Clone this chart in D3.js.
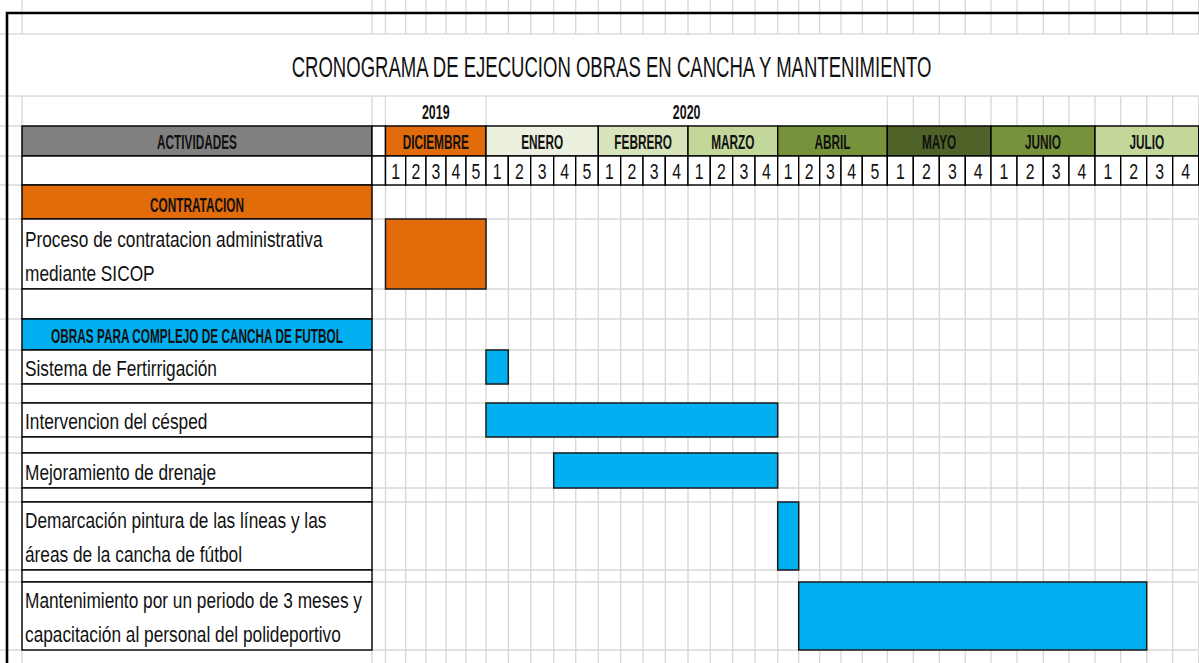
<!DOCTYPE html>
<html><head><meta charset="utf-8">
<script src="https://cdn.jsdelivr.net/npm/d3@7"></script>
<style>body{margin:0;background:#fff}svg{display:block}</style>
</head><body>
<svg id="c" width="1199" height="663"></svg>
<script>
// ---------------- DATA ----------------
const title = "CRONOGRAMA DE EJECUCION OBRAS EN CANCHA Y MANTENIMIENTO";
const headerLabel = "ACTIVIDADES";
const years = ["2019", "2020"];
const yearMonthSpan = [1, 4];             // months covered by each year cell
const months = ["DICIEMBRE", "ENERO", "FEBRERO", "MARZO", "ABRIL", "MAYO", "JUNIO", "JULIO"];
const weeksPerMonth = [5, 5, 4, 4, 5, 4, 4, 4];
const groups = ["CONTRATACION", "OBRAS PARA COMPLEJO DE CANCHA DE FUTBOL"];
const activities = [
  ["Proceso de contratacion administrativa", "mediante SICOP"],
  ["Sistema de Fertirrigación"],
  ["Intervencion del césped"],
  ["Mejoramiento de drenaje"],
  ["Demarcación pintura de las líneas y las", "áreas de la cancha de fútbol"],
  ["Mantenimiento por un periodo de 3 meses y", "capacitación al personal del polideportivo"]
];
const activityGroup = [0, 1, 1, 1, 1, 1];
const startWeek = [0, 5, 5, 8, 18, 19];   // week index (0 = Diciembre semana 1)
const endWeek   = [5, 6, 18, 18, 19, 33]; // exclusive

// ---------------- LAYOUT / STYLE ----------------
const W = 1199, H = 663;
const labelL = 22, labelR = 372, gridL = 385.5;
const weekWidths = [20.2,20.3,20,20,20, 22.3,22.4,23,22,22.6, 22.4,22.3,22.3,22.7, 22.3,22.4,22.3,22.7,
                    21,21,21.3,21.3,25, 26,26,26,25.7, 26,26.3,25.7,26, 25.7,26,26,26];
const headerY = {top: 13, title: 34, year: 96, month: 126, week: 156, body: 185};
const groupH = [34, 31];
const actH = [70, 34, 34, 35, 68, 68];
const gapH = [30, 19, 16, 14, 12];
const monthFill = ["#E26B0A", "#EBF1DE", "#D8E4BC", "#C4D79B", "#76933C", "#4F6228", "#76933C", "#C4D79B"];
const groupFill = ["#E26B0A", "#00B0F0"];
const gridColor = "#d9d9d9";
const FONT = "'Liberation Sans', Arial, sans-serif";

const svg = d3.select("#c");

// polylinear week scale
const bounds = [gridL];
weekWidths.forEach(w => bounds.push(bounds[bounds.length - 1] + w));
const x = d3.scaleLinear().domain(d3.range(bounds.length)).range(bounds);
const monthStart = d3.cumsum([0, ...weeksPerMonth]);

// body rows
const rows = [];
let yy = headerY.body;
let gapCount = 0;
activities.forEach((a, i) => {
  const g = activityGroup[i];
  if (i === 0 || g !== activityGroup[i - 1]) { rows.push({type: "group", g, y: yy, h: groupH[g]}); yy += groupH[g]; }
  rows.push({type: "act", i, y: yy, h: actH[i]}); yy += actH[i];
  if (i < activities.length - 1) { const h = gapH[gapCount++]; rows.push({type: "gap", y: yy, h}); yy += h; }
});

function condense(sel, f) {
  sel.each(function () {
    const w = this.getComputedTextLength();
    this.setAttribute("textLength", w * f);
    this.setAttribute("lengthAdjust", "spacingAndGlyphs");
  });
}

// ---------------- light spreadsheet grid ----------------
const hLines = [headerY.title, headerY.year, headerY.month, headerY.week, headerY.body, ...rows.map(r => r.y + r.h)];
const vLines = [labelL, labelR, ...bounds];
const grid = svg.append("g");
grid.selectAll("line.h").data(hLines).join("line")
  .attr("x1", 0).attr("x2", W).attr("y1", d => d).attr("y2", d => d)
  .attr("stroke", gridColor).attr("stroke-width", 1.4);
grid.selectAll("line.v").data(vLines).join("line")
  .attr("x1", d => d).attr("x2", d => d).attr("y1", 0).attr("y2", H)
  .attr("stroke", gridColor).attr("stroke-width", 1.4);

// merged title cell
svg.append("rect").attr("x", 9).attr("y", headerY.title + 0.8).attr("width", W - 9)
  .attr("height", headerY.year - headerY.title - 1.6).attr("fill", "#fff");
svg.append("text").attr("x", (labelL + W) / 2 + 1).attr("y", 77)
  .attr("text-anchor", "middle").attr("font-family", FONT).attr("font-size", 30)
  .attr("fill", "#111").text(title).call(condense, 0.618);

// merged year cells
let mAcc = 0;
const yearCells = years.map((yv, i) => {
  const s = monthStart[mAcc], e = monthStart[mAcc + yearMonthSpan[i]];
  mAcc += yearMonthSpan[i];
  return {label: yv, s, e};
});
svg.selectAll("rect.yr").data(yearCells).join("rect")
  .attr("x", d => x(d.s) + 0.8).attr("width", d => x(d.e) - x(d.s) - 1.6)
  .attr("y", headerY.year + 0.8).attr("height", headerY.month - headerY.year - 1.6).attr("fill", "#fff");
svg.selectAll("text.yr").data(yearCells).join("text")
  .attr("x", d => (x(d.s) + x(d.e)) / 2).attr("y", headerY.month - 7)
  .attr("text-anchor", "middle").attr("font-family", FONT).attr("font-weight", "bold")
  .attr("font-size", 20).attr("fill", "#111").text(d => d.label)
  .call(condense, 0.62);

// ---------------- bordered header cells ----------------
const B = "#000", BW = 1.4;
function cell(g, x0, y0, w, h, fill) {
  g.append("rect").attr("x", x0).attr("y", y0).attr("width", w).attr("height", h)
    .attr("fill", fill).attr("stroke", B).attr("stroke-width", BW);
}
const hdr = svg.append("g");
cell(hdr, labelL, headerY.month, labelR - labelL, headerY.week - headerY.month, "#808080");
cell(hdr, labelR, headerY.month, gridL - labelR, headerY.week - headerY.month, "#fff");
cell(hdr, labelL, headerY.week, labelR - labelL, headerY.body - headerY.week, "#fff");
cell(hdr, labelR, headerY.week, gridL - labelR, headerY.body - headerY.week, "#fff");
hdr.append("text").attr("x", (labelL + labelR) / 2).attr("y", headerY.week - 7)
  .attr("text-anchor", "middle").attr("font-family", FONT).attr("font-weight", "bold")
  .attr("font-size", 20).attr("fill", "#111").text(headerLabel).call(condense, 0.59);

const monthData = months.map((m, i) => ({m, s: monthStart[i], e: monthStart[i + 1], fill: monthFill[i]}));
hdr.selectAll("rect.mo").data(monthData).join("rect")
  .attr("x", d => x(d.s)).attr("width", d => x(d.e) - x(d.s))
  .attr("y", headerY.month).attr("height", headerY.week - headerY.month)
  .attr("fill", d => d.fill).attr("stroke", B).attr("stroke-width", BW);
hdr.selectAll("text.mo").data(monthData).join("text")
  .attr("x", d => (x(d.s) + x(d.e)) / 2).attr("y", headerY.week - 7)
  .attr("text-anchor", "middle").attr("font-family", FONT).attr("font-weight", "bold")
  .attr("font-size", 20).attr("fill", "#111").text(d => d.m).call(condense, 0.59);

const weekData = [];
weeksPerMonth.forEach((n, mi) => { for (let k = 0; k < n; k++) weekData.push({idx: monthStart[mi] + k, label: String(k + 1)}); });
hdr.selectAll("rect.wk").data(weekData).join("rect")
  .attr("x", d => x(d.idx)).attr("width", d => x(d.idx + 1) - x(d.idx))
  .attr("y", headerY.week).attr("height", headerY.body - headerY.week)
  .attr("fill", "#fff").attr("stroke", B).attr("stroke-width", BW);
hdr.selectAll("text.wk").data(weekData).join("text")
  .attr("x", d => (x(d.idx) + x(d.idx + 1)) / 2).attr("y", headerY.body - 6.5)
  .attr("text-anchor", "middle").attr("font-family", FONT)
  .attr("font-size", 22).attr("fill", "#111").text(d => d.label).call(condense, 0.72);

// ---------------- label column ----------------
const body = svg.append("g");
rows.forEach(r => {
  const fill = r.type === "group" ? groupFill[r.g] : "#fff";
  cell(body, labelL, r.y, labelR - labelL, r.h, fill);
  if (r.type === "group") {
    body.append("text").attr("x", (labelL + labelR) / 2).attr("y", r.y + r.h - 7)
      .attr("text-anchor", "middle").attr("font-family", FONT).attr("font-weight", "bold")
      .attr("font-size", 20).attr("fill", "#111").text(groups[r.g]).call(condense, 0.59);
  } else if (r.type === "act") {
    const lines = activities[r.i];
    lines.forEach((t, li) => {
      body.append("text").attr("x", labelL + 3)
        .attr("y", r.y + r.h - 8 - 34 * (lines.length - 1 - li))
        .attr("font-family", FONT).attr("font-size", 22).attr("fill", "#111")
        .text(t).call(condense, 0.785);
    });
  }
});

// ---------------- bars ----------------
const actRows = rows.filter(r => r.type === "act");
svg.append("g").selectAll("rect").data(activities.map((a, i) => i)).join("rect")
  .attr("x", i => x(startWeek[i])).attr("width", i => x(endWeek[i]) - x(startWeek[i]))
  .attr("y", i => actRows[i].y).attr("height", i => actRows[i].h)
  .attr("fill", i => groupFill[activityGroup[i]])
  .attr("stroke", "#1a1a1a").attr("stroke-width", 1.5);

// ---------------- outer thick border ----------------
svg.append("path").attr("d", `M7,${H} V${headerY.top} H${W}`)
  .attr("fill", "none").attr("stroke", "#000").attr("stroke-width", 2.6);
</script>
</body></html>
